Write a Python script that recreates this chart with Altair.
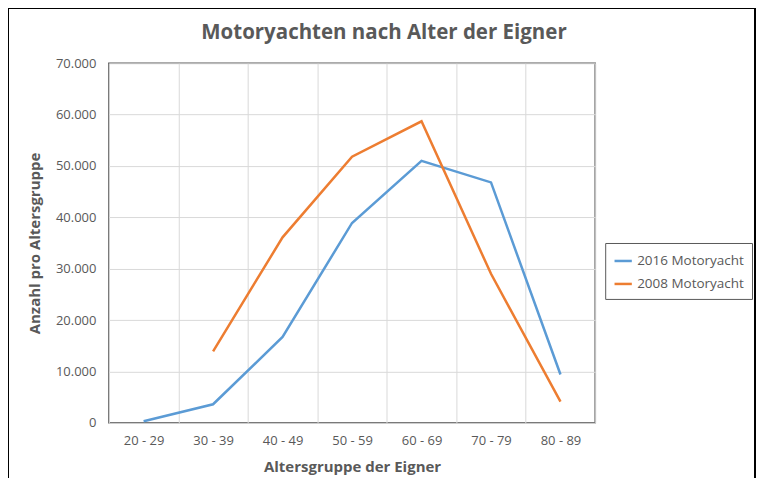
import altair as alt
import pandas as pd

categories = ["20 - 29", "30 - 39", "40 - 49", "50 - 59", "60 - 69", "70 - 79", "80 - 89"]
v2016 = [300, 3600, 16700, 38900, 51000, 46800, 9400]
v2008 = [None, 13900, 36100, 51800, 58700, 29000, 4100]
series = ["2016 Motoryacht", "2008 Motoryacht"]
colors = ["#5b9bd5", "#ed7d31"]
y_ticks = [0, 10000, 20000, 30000, 40000, 50000, 60000, 70000]

rows = []
for name, vals in zip(series, [v2016, v2008]):
    for c, v in zip(categories, vals):
        if v is not None:
            rows.append({"Altersgruppe": c, "Anzahl": v, "Serie": name})
df = pd.DataFrame(rows)

FONT = "Open Sans"
GREY = "#595959"

lines = alt.Chart(df).mark_line(strokeWidth=2.5).encode(
    x=alt.X("Altersgruppe:N", sort=categories, bandPosition=0.5,
            scale=alt.Scale(type="band", paddingInner=0, paddingOuter=0),
            axis=alt.Axis(title="Altersgruppe der Eigner", tickBand="extent", ticks=False,
                          domain=False, labelAngle=0, labelPadding=12,
                          gridColor="#d9d9d9", grid=True, titlePadding=12)),
    y=alt.Y("Anzahl:Q", scale=alt.Scale(domain=[0, 70000], nice=False),
            axis=alt.Axis(title="Anzahl pro Altersgruppe", values=y_ticks, labelOverlap=False,
                          labelExpr="replace(format(datum.value, ',d'), ',', '.')",
                          ticks=False, domain=False, labelPadding=13, titlePadding=13,
                          gridColor="#d9d9d9")),
    color=alt.Color("Serie:N", scale=alt.Scale(domain=series, range=colors),
                    legend=alt.Legend(title=None, orient="none", legendX=497, legendY=180,
                                      symbolType="stroke", symbolStrokeWidth=2.5, symbolSize=300,
                                      strokeColor="#595959", padding=8, labelFontSize=13.5,
                                      labelColor=GREY, labelFont=FONT, rowPadding=6)),
)

frame = alt.Chart(df).mark_rect(fill=None, stroke="#000000", strokeWidth=1.5).encode(
    x=alt.value(-101), x2=alt.value(647), y=alt.value(-55), y2=alt.value(440)
)

chart = alt.layer(frame, lines).properties(
    width=487, height=360,
    title=alt.TitleParams("Motoryachten nach Alter der Eigner", fontSize=20.5, font=FONT,
                          color=GREY, fontWeight="bold", dx=32, dy=36, offset=0, frame="group"),
    autosize=alt.AutoSizeParams(type="none"),
    padding={"left": 101, "top": 55, "right": 162, "bottom": 55},
).configure_view(stroke="#595959", strokeWidth=1.5).configure_axis(
    labelFont=FONT, titleFont=FONT, labelFontSize=13, titleFontSize=15,
    labelColor=GREY, titleColor=GREY, titleFontWeight="bold"
)

chart.save("out.html", embed_options={"renderer": "svg", "actions": False})
